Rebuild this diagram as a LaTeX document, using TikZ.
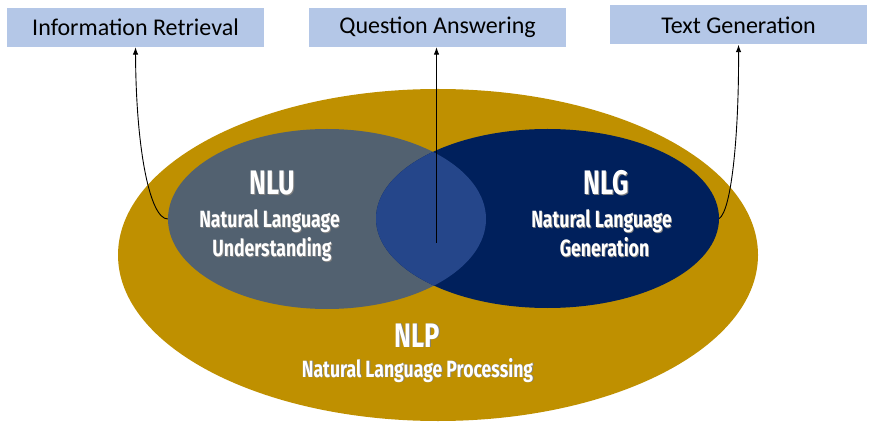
\documentclass[tikz,border=0pt]{standalone}
\usepackage{fontspec}
\setmainfont{Carlito}
\newfontfamily\condfont{Fira Sans}[FakeStretch=0.75]
\usetikzlibrary{arrows.meta,shapes.geometric}
\definecolor{nlpgold}{HTML}{BF9000}
\definecolor{nlugray}{HTML}{526170}
\definecolor{nlgnavy}{HTML}{00205C}
\definecolor{bothblue}{HTML}{25468A}
\definecolor{taskblue}{HTML}{B4C7E7}
% white lettering with a soft drop shadow
\newcommand\shadowed[1]{\makebox[0pt][l]{\hspace{0.9pt}\raisebox{-0.9pt}{\textcolor{black!50}{#1}}}#1}
\begin{document}
\begin{tikzpicture}[x=1pt,y=-1pt,
  task/.style={fill=taskblue, minimum width=257pt, minimum height=39pt,
    inner sep=0pt, text=black, font=\fontsize{24}{25}\selectfont},
  area/.style={ellipse, inner sep=0pt},
  acronym/.style={anchor=base, inner sep=0pt, text=white,
    font=\condfont\bfseries\fontsize{34}{35}\selectfont},
  fullname/.style={anchor=base, inner sep=0pt, text=white,
    font=\condfont\bfseries\fontsize{23.5}{25}\selectfont},
  conn/.style={line width=0.9pt, -{Latex[length=7.5pt,width=5.5pt]}}]
\useasboundingbox (0,0) rectangle (874,427);

% task boxes
\node[task] (ir) at (135.5,27.5) {Information Retrieval};
\node[task] (qa) at (437.5,27.5) {Question Answering};
\node[task] (tg) at (738.5,25) {Text Generation};

% nested areas
\node[area, fill=nlpgold, minimum width=640pt, minimum height=332pt] (nlp) at (438,255) {};
\node[area, fill=nlugray, minimum width=318pt, minimum height=180pt] (nlu) at (327,219) {};
\node[area, fill=nlgnavy, minimum width=343pt, minimum height=179pt] (nlg) at (547.5,218.5) {};
\begin{scope}
  \clip (327,219) ellipse [x radius=159, y radius=90];
  \fill[bothblue] (547.5,218.5) ellipse [x radius=171.5, y radius=89.5];
\end{scope}

% labels
\node[acronym]  (nlu-t)  at (272.5,195) {\shadowed{NLU}};
\node[fullname] (nlu-l1) at (269.5,228) {\shadowed{Natural Language}};
\node[fullname] (nlu-l2) at (272,257) {\shadowed{Understanding}};
\node[acronym]  (nlg-t)  at (606,195) {\shadowed{NLG}};
\node[fullname] (nlg-l1) at (601.5,228) {\shadowed{Natural Language}};
\node[fullname] (nlg-l2) at (604.5,257) {\shadowed{Generation}};
\node[acronym]  (nlp-t)  at (417.5,347) {\shadowed{NLP}};
\node[fullname] (nlp-l1) at (417.5,377) {\shadowed{Natural Language Processing}};

% connectors
\coordinate (qa-foot) at (436.5,243);
\draw[conn] (nlu.west) .. controls (150,219) and (136,150) .. (ir.south);
\draw[conn] (qa-foot) -- (qa-foot |- qa.south);
\draw[conn] (nlg.east) .. controls (732,210) and (739,130) .. (tg.south);
\end{tikzpicture}
\end{document}
